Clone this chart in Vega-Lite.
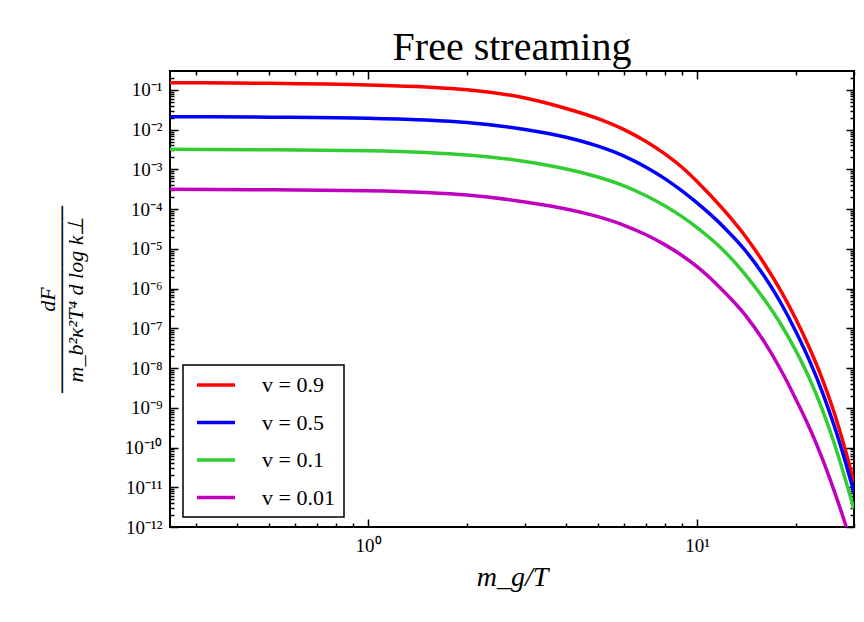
{
  "$schema": "https://vega.github.io/schema/vega-lite/v6.json",
  "width": 684,
  "height": 456,
  "autosize": {"type": "none"},
  "padding": {"left": 170, "top": 71, "right": 10, "bottom": 95},
  "background": "white",
  "title": {"text": "Free streaming", "font": "Liberation Serif", "fontSize": 40, "fontWeight": "normal", "color": "black", "anchor": "middle", "frame": "group", "offset": 2},
  "config": {
    "view": {"stroke": "black", "strokeWidth": 2},
    "axis": {"grid": false, "domain": false, "ticks": true, "zindex": 1, "tickColor": "black", "tickOpacity": 1, "tickWidth": 1.5, "labelColor": "black", "titleColor": "black", "labelFont": "Liberation Serif", "titleFont": "Liberation Serif", "labelFlush": false, "labelOverlap": false, "titleFontWeight": "normal"}
  },
  "data": {"values": [
    {"s":"v = 0.9","x":0.25,"y":0.1527},{"s":"v = 0.9","x":0.5,"y":0.1475},{"s":"v = 0.9","x":1,"y":0.1336},{"s":"v = 0.9","x":1.5,"y":0.119},{"s":"v = 0.9","x":2,"y":0.1017},{"s":"v = 0.9","x":3,"y":0.06289},{"s":"v = 0.9","x":4,"y":0.03422},{"s":"v = 0.9","x":5,"y":0.01895},{"s":"v = 0.9","x":6,"y":0.01002},{"s":"v = 0.9","x":7,"y":0.005027},{"s":"v = 0.9","x":8,"y":0.002422},{"s":"v = 0.9","x":9,"y":0.001133},{"s":"v = 0.9","x":10,"y":4.977e-4},{"s":"v = 0.9","x":12,"y":9.993e-5},{"s":"v = 0.9","x":14,"y":2.114e-5},{"s":"v = 0.9","x":16,"y":4.295e-6},{"s":"v = 0.9","x":18,"y":8.626e-7},{"s":"v = 0.9","x":20,"y":1.663e-7},{"s":"v = 0.9","x":22,"y":3.097e-8},{"s":"v = 0.9","x":24,"y":5.445e-9},{"s":"v = 0.9","x":26,"y":8.42e-10},{"s":"v = 0.9","x":28,"y":1.108e-10},{"s":"v = 0.9","x":30,"y":1.328e-11},
    {"s":"v = 0.5","x":0.25,"y":0.02128},{"s":"v = 0.5","x":0.5,"y":0.02067},{"s":"v = 0.5","x":1,"y":0.0194},{"s":"v = 0.5","x":1.5,"y":0.01758},{"s":"v = 0.5","x":2,"y":0.01521},{"s":"v = 0.5","x":3,"y":0.01013},{"s":"v = 0.5","x":4,"y":0.00645},{"s":"v = 0.5","x":5,"y":0.00385},{"s":"v = 0.5","x":6,"y":0.002169},{"s":"v = 0.5","x":7,"y":0.00114},{"s":"v = 0.5","x":8,"y":5.787e-4},{"s":"v = 0.5","x":9,"y":2.869e-4},{"s":"v = 0.5","x":10,"y":1.431e-4},{"s":"v = 0.5","x":12,"y":3.666e-5},{"s":"v = 0.5","x":14,"y":9.233e-6},{"s":"v = 0.5","x":16,"y":2.07e-6},{"s":"v = 0.5","x":18,"y":4.278e-7},{"s":"v = 0.5","x":20,"y":8.104e-8},{"s":"v = 0.5","x":22,"y":1.492e-8},{"s":"v = 0.5","x":24,"y":2.563e-9},{"s":"v = 0.5","x":26,"y":3.966e-10},{"s":"v = 0.5","x":28,"y":5.559e-11},{"s":"v = 0.5","x":30,"y":7.44e-12},
    {"s":"v = 0.1","x":0.25,"y":0.003217},{"s":"v = 0.1","x":0.5,"y":0.003125},{"s":"v = 0.1","x":1,"y":0.002966},{"s":"v = 0.1","x":1.5,"y":0.002673},{"s":"v = 0.1","x":2,"y":0.002312},{"s":"v = 0.1","x":3,"y":0.001586},{"s":"v = 0.1","x":4,"y":0.001027},{"s":"v = 0.1","x":5,"y":6.459e-4},{"s":"v = 0.1","x":6,"y":3.857e-4},{"s":"v = 0.1","x":7,"y":2.173e-4},{"s":"v = 0.1","x":8,"y":1.196e-4},{"s":"v = 0.1","x":9,"y":6.471e-5},{"s":"v = 0.1","x":10,"y":3.44e-5},{"s":"v = 0.1","x":12,"y":9.393e-6},{"s":"v = 0.1","x":14,"y":2.297e-6},{"s":"v = 0.1","x":16,"y":5.393e-7},{"s":"v = 0.1","x":18,"y":1.252e-7},{"s":"v = 0.1","x":20,"y":2.664e-8},{"s":"v = 0.1","x":22,"y":5.289e-9},{"s":"v = 0.1","x":24,"y":9.296e-10},{"s":"v = 0.1","x":26,"y":1.438e-10},{"s":"v = 0.1","x":28,"y":2.016e-11},{"s":"v = 0.1","x":30,"y":2.859e-12},
    {"s":"v = 0.01","x":0.25,"y":3.167e-4},{"s":"v = 0.01","x":0.5,"y":3.076e-4},{"s":"v = 0.01","x":1,"y":2.919e-4},{"s":"v = 0.01","x":1.5,"y":2.63e-4},{"s":"v = 0.01","x":2,"y":2.276e-4},{"s":"v = 0.01","x":3,"y":1.517e-4},{"s":"v = 0.01","x":4,"y":1.011e-4},{"s":"v = 0.01","x":5,"y":6.471e-5},{"s":"v = 0.01","x":6,"y":3.931e-5},{"s":"v = 0.01","x":7,"y":2.266e-5},{"s":"v = 0.01","x":8,"y":1.262e-5},{"s":"v = 0.01","x":9,"y":6.828e-6},{"s":"v = 0.01","x":10,"y":3.568e-6},{"s":"v = 0.01","x":12,"y":8.88e-7},{"s":"v = 0.01","x":14,"y":2.184e-7},{"s":"v = 0.01","x":16,"y":4.62e-8},{"s":"v = 0.01","x":18,"y":8.81e-9},{"s":"v = 0.01","x":20,"y":1.602e-9},{"s":"v = 0.01","x":22,"y":3.055e-10},{"s":"v = 0.01","x":24,"y":5.433e-11},{"s":"v = 0.01","x":26,"y":9.01e-12},{"s":"v = 0.01","x":28,"y":1.468e-12},{"s":"v = 0.01","x":30,"y":2.339e-13}
  ]},
  "layer": [
    {
      "mark": {"type": "line", "strokeWidth": 3.5, "clip": true, "interpolate": "monotone"},
      "encoding": {
        "x": {
          "field": "x", "type": "quantitative",
          "scale": {"type": "log", "domain": [0.25, 30], "nice": false},
          "axis": {
            "orient": "bottom",
            "values": [1, 10],
            "labelExpr": "round(log(datum.value)/LN10) == 0 ? '10⁰' : '10¹'",
            "offset": -8,
            "tickSize": 8,
            "labelPadding": 9,
            "labelFontSize": 19,
            "title": "m_g/T",
            "titleFontSize": 28,
            "titleFontStyle": "italic",
            "titlePadding": 8
          }
        },
        "y": {
          "field": "y", "type": "quantitative",
          "scale": {"type": "log", "domain": [1e-12, 0.3], "nice": false},
          "axis": {
            "orient": "left",
            "values": [1e-12,1e-11,1e-10,1e-9,1e-8,1e-7,1e-6,1e-5,1e-4,1e-3,1e-2,1e-1],
            "labelExpr": "'10⁻' + (round(-log(datum.value)/LN10) >= 10 ? '¹' : '') + ['⁰','¹','²','³','⁴','⁵','⁶','⁷','⁸','⁹'][round(-log(datum.value)/LN10) % 10]",
            "offset": -8,
            "tickSize": 8,
            "labelPadding": 8,
            "labelFontSize": 19,
            "title": ["dF", "────────────", "m_b²κ²T⁴ d log k⊥"],
            "titleFontSize": 22,
            "titleFontStyle": "italic",
            "titleLineHeight": 14,
            "titlePadding": 37
          }
        },
        "color": {
          "field": "s", "type": "nominal",
          "scale": {"domain": ["v = 0.9", "v = 0.5", "v = 0.1", "v = 0.01"], "range": ["#ff0000", "#0000ff", "#32cd32", "#bf00bf"]},
          "legend": {
            "title": null,
            "orient": "none",
            "legendX": 13,
            "legendY": 294,
            "symbolType": "M-2,0L2,0",
            "symbolSize": 361,
            "symbolStrokeWidth": 3.5,
            "labelFont": "Liberation Serif",
            "labelFontSize": 22,
            "labelColor": "black",
            "strokeColor": "black",
            "fillColor": "white",
            "padding": 8.5,
            "rowPadding": 14.5,
            "symbolOffset": 13,
            "labelOffset": 34.5,
            "encode": {"legend": {"update": {"strokeWidth": {"value": 1.5}}}}
          }
        }
      }
    },
    {
      "mark": {"type": "line", "opacity": 0, "clip": true},
      "encoding": {
        "x": {
          "field": "x", "type": "quantitative",
          "axis": {"orient": "bottom", "values": [0.3,0.4,0.5,0.6,0.7,0.8,0.9,2,3,4,5,6,7,8,9,20,30], "labels": false, "offset": -4, "tickSize": 4, "title": null}
        },
        "y": {
          "field": "y", "type": "quantitative",
          "axis": {"orient": "left", "values": [2e-12,3e-12,4e-12,5e-12,6e-12,7e-12,8e-12,9e-12,2e-11,3e-11,4e-11,5e-11,6e-11,7e-11,8e-11,9e-11,2e-10,3e-10,4e-10,5e-10,6e-10,7e-10,8e-10,9e-10,2e-9,3e-9,4e-9,5e-9,6e-9,7e-9,8e-9,9e-9,2e-8,3e-8,4e-8,5e-8,6e-8,7e-8,8e-8,9e-8,2e-7,3e-7,4e-7,5e-7,6e-7,7e-7,8e-7,9e-7,2e-6,3e-6,4e-6,5e-6,6e-6,7e-6,8e-6,9e-6,2e-5,3e-5,4e-5,5e-5,6e-5,7e-5,8e-5,9e-5,2e-4,3e-4,4e-4,5e-4,6e-4,7e-4,8e-4,9e-4,2e-3,3e-3,4e-3,5e-3,6e-3,7e-3,8e-3,9e-3,2e-2,3e-2,4e-2,5e-2,6e-2,7e-2,8e-2,9e-2,2e-1], "labels": false, "offset": -4, "tickSize": 4, "title": null}
        },
        "detail": {"field": "s", "type": "nominal"}
      }
    },
    {
      "mark": {"type": "line", "opacity": 0, "clip": true},
      "encoding": {
        "x": {
          "field": "x", "type": "quantitative",
          "axis": {"orient": "top", "values": [1, 10], "labels": false, "offset": -8, "tickSize": 8, "title": null}
        },
        "y": {
          "field": "y", "type": "quantitative",
          "axis": {"orient": "right", "values": [1e-12,1e-11,1e-10,1e-9,1e-8,1e-7,1e-6,1e-5,1e-4,1e-3,1e-2,1e-1], "labels": false, "offset": -8, "tickSize": 8, "title": null}
        },
        "detail": {"field": "s", "type": "nominal"}
      }
    },
    {
      "mark": {"type": "line", "opacity": 0, "clip": true},
      "encoding": {
        "x": {
          "field": "x", "type": "quantitative",
          "axis": {"orient": "top", "values": [0.3,0.4,0.5,0.6,0.7,0.8,0.9,2,3,4,5,6,7,8,9,20,30], "labels": false, "offset": -4, "tickSize": 4, "title": null}
        },
        "y": {
          "field": "y", "type": "quantitative",
          "axis": {"orient": "right", "values": [2e-12,3e-12,4e-12,5e-12,6e-12,7e-12,8e-12,9e-12,2e-11,3e-11,4e-11,5e-11,6e-11,7e-11,8e-11,9e-11,2e-10,3e-10,4e-10,5e-10,6e-10,7e-10,8e-10,9e-10,2e-9,3e-9,4e-9,5e-9,6e-9,7e-9,8e-9,9e-9,2e-8,3e-8,4e-8,5e-8,6e-8,7e-8,8e-8,9e-8,2e-7,3e-7,4e-7,5e-7,6e-7,7e-7,8e-7,9e-7,2e-6,3e-6,4e-6,5e-6,6e-6,7e-6,8e-6,9e-6,2e-5,3e-5,4e-5,5e-5,6e-5,7e-5,8e-5,9e-5,2e-4,3e-4,4e-4,5e-4,6e-4,7e-4,8e-4,9e-4,2e-3,3e-3,4e-3,5e-3,6e-3,7e-3,8e-3,9e-3,2e-2,3e-2,4e-2,5e-2,6e-2,7e-2,8e-2,9e-2,2e-1], "labels": false, "offset": -4, "tickSize": 4, "title": null}
        },
        "detail": {"field": "s", "type": "nominal"}
      }
    }
  ],
  "resolve": {"axis": {"x": "independent", "y": "independent"}}
}
